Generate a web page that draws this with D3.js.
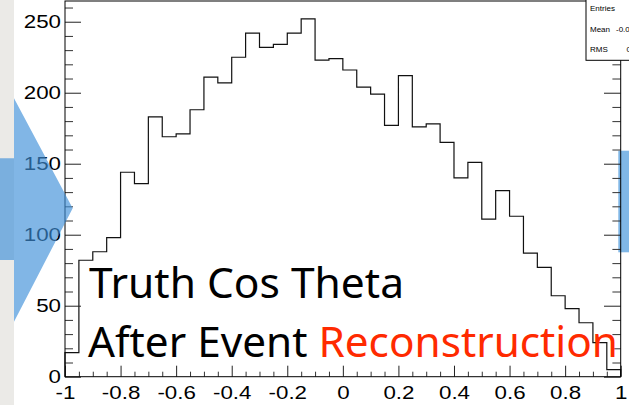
<!DOCTYPE html>
<html>
<head>
<meta charset="utf-8">
<script src="https://cdn.jsdelivr.net/npm/d3@7"></script>
<style>
  html, body { margin: 0; padding: 0; background: #ffffff; }
  svg { display: block; }
</style>
</head>
<body>
<script>
// ---- data ----
const binEdges = [-1, -0.95, -0.9, -0.85, -0.8, -0.75, -0.7, -0.65, -0.6, -0.55,
  -0.5, -0.45, -0.4, -0.35, -0.3, -0.25, -0.2, -0.15, -0.1, -0.05,
  0, 0.05, 0.1, 0.15, 0.2, 0.25, 0.3, 0.35, 0.4, 0.45,
  0.5, 0.55, 0.6, 0.65, 0.7, 0.75, 0.8, 0.85, 0.9, 0.95, 1];
const counts = [17, 82, 88, 98, 144, 136, 183, 169, 171, 188,
  211, 207, 225, 242, 232, 234, 242, 252, 223, 224,
  216, 204, 199, 177, 212, 176, 178, 165, 140, 151,
  111, 131, 113, 87, 77, 57, 48, 38, 24, 5];
const xTicks = [-1, -0.8, -0.6, -0.4, -0.2, 0, 0.2, 0.4, 0.6, 0.8, 1];
const xTickLabels = ["-1", "-0.8", "-0.6", "-0.4", "-0.2", "0", "0.2", "0.4", "0.6", "0.8", "1"];
const yTicks = [0, 50, 100, 150, 200, 250];
const yTickLabels = ["0", "50", "100", "150", "200", "250"];
const titleLine1 = "Truth Cos Theta";
const titleLine2a = "After Event ";
const titleLine2b = "Reconstruction";
const statLabels = ["Entries", "Mean", "RMS"];

// ---- layout ----
const W = 629, H = 405;
const L = 65, R = 620.7, T = 1, B = 376.7;
const stretch = 1.2;

const svg = d3.select("body").append("svg").attr("width", W).attr("height", H);

const x = d3.scaleLinear().domain([binEdges[0], binEdges[binEdges.length - 1]]).range([L, R]);
const y = d3.scaleLinear().domain([0, d3.max(counts) * 1.05]).range([B, T]);

// background strip on left
svg.append("rect").attr("x", 0).attr("y", 0).attr("width", 14).attr("height", H).attr("fill", "#ebeae7");

// plot area
svg.append("rect").attr("x", L).attr("y", T).attr("width", R - L).attr("height", B - T).attr("fill", "#fff");

// right blue block
svg.append("rect").attr("x", 618.3).attr("y", 150.7).attr("width", W - 618.3).attr("height", 101.6).attr("fill", "#80b7e6");

// histogram outline
let p = d3.path();
p.moveTo(x(binEdges[0]), y(0));
counts.forEach((c, i) => {
  p.lineTo(x(binEdges[i]), y(c));
  p.lineTo(x(binEdges[i + 1]), y(c));
});
p.lineTo(x(binEdges[binEdges.length - 1]), y(0));
svg.append("path").attr("d", p.toString()).attr("fill", "none").attr("stroke", "#111").attr("stroke-width", 1.2);

function stretchText(sel) {
  sel.each(function () {
    const len = this.getComputedTextLength();
    d3.select(this).attr("textLength", len * stretch).attr("lengthAdjust", "spacingAndGlyphs");
  });
}

const tickFont = "'Liberation Sans', Arial, Helvetica, sans-serif";

// y axis minor
const yMinor = d3.range(0, y.domain()[1], 10).filter(v => v % 50 !== 0);
svg.append("g").attr("transform", `translate(${L},0)`)
  .call(d3.axisLeft(y).tickValues(yMinor).tickSize(-8).tickSizeOuter(0).tickFormat(""))
  .call(g => g.select(".domain").remove())
  .selectAll("line").attr("stroke", "#333");
// y axis major
const gy = svg.append("g").attr("transform", `translate(${L},0)`)
  .call(d3.axisLeft(y).tickValues(yTicks).tickSize(-16).tickSizeOuter(0).tickPadding(4)
    .tickFormat((d, i) => yTickLabels[i]));
gy.select(".domain").remove();
gy.selectAll("line").attr("stroke", "#222");
gy.selectAll("text").attr("font-family", tickFont).attr("font-size", 18.6).attr("fill", "#000").call(stretchText);

// right axis ticks
svg.append("g").attr("transform", `translate(${R},0)`)
  .call(d3.axisRight(y).tickValues(yMinor).tickSize(-8.3).tickSizeOuter(0).tickFormat(""))
  .call(g => g.select(".domain").remove())
  .selectAll("line").attr("stroke", "#333");
svg.append("g").attr("transform", `translate(${R},0)`)
  .call(d3.axisRight(y).tickValues(yTicks).tickSize(-16.7).tickSizeOuter(0).tickFormat(""))
  .call(g => g.select(".domain").remove())
  .selectAll("line").attr("stroke", "#222");

// x axis minor
svg.append("g").attr("transform", `translate(0,${B})`)
  .call(d3.axisBottom(x).tickValues(binEdges.filter(v => !xTicks.some(t => Math.abs(t - v) < 1e-9))).tickSize(-5).tickSizeOuter(0).tickFormat(""))
  .call(g => g.select(".domain").remove())
  .selectAll("line").attr("stroke", "#333");
// x axis major
const gx = svg.append("g").attr("transform", `translate(0,${B})`)
  .call(d3.axisBottom(x).tickValues(xTicks).tickSize(-11).tickSizeOuter(0).tickPadding(9.5)
    .tickFormat((d, i) => xTickLabels[i]));
gx.select(".domain").remove();
gx.selectAll("line").attr("stroke", "#222");
gx.selectAll("text").attr("font-family", tickFont).attr("font-size", 18.6).attr("fill", "#000").call(stretchText);

// frame
svg.append("rect").attr("x", L).attr("y", T).attr("width", R - L).attr("height", B - T)
  .attr("fill", "none").attr("stroke", "#000").attr("stroke-width", 1);

// title text
const bigFont = "'Noto Sans', 'Open Sans', sans-serif";
svg.append("text").attr("x", 89).attr("y", 298).attr("font-family", bigFont).attr("font-size", 42)
  .attr("fill", "#000").attr("textLength", 315).attr("lengthAdjust", "spacingAndGlyphs").text(titleLine1);
const t2 = svg.append("text").attr("x", 88).attr("y", 357).attr("font-family", bigFont).attr("font-size", 42)
  .attr("fill", "#000").attr("textLength", 530).attr("lengthAdjust", "spacingAndGlyphs");
t2.append("tspan").text(titleLine2a);
t2.append("tspan").attr("fill", "#ff2a00").text(titleLine2b);

// stats box (cut by the right edge, as in the reference)
const total = d3.sum(counts);
const centers = counts.map((c, i) => (binEdges[i] + binEdges[i + 1]) / 2);
const mean = d3.sum(counts.map((c, i) => c * centers[i])) / total;
const rms = Math.sqrt(d3.sum(counts.map((c, i) => c * (centers[i] - mean) ** 2)) / total);
svg.append("rect").attr("x", 586).attr("y", -1).attr("width", 60).attr("height", 61.3)
  .attr("fill", "#fff").attr("stroke", "#000").attr("stroke-width", 1);
const statVals = [null, mean.toFixed(4), rms.toFixed(4)];
const statValX = [null, 616, 626.5];
const statY = [10.7, 31.7, 51.7];
statLabels.forEach((s, i) => {
  svg.append("text").attr("x", 590).attr("y", statY[i]).attr("font-family", tickFont).attr("font-size", 8)
    .attr("fill", "#000").text(s);
  if (statVals[i] !== null) {
    svg.append("text").attr("x", statValX[i]).attr("y", statY[i]).attr("font-family", tickFont).attr("font-size", 8)
      .attr("fill", "#000").text(statVals[i]);
  }
});

// left blue arrow (semi-transparent, on top)
const arrowPts = [[0, 158.3], [14, 158.3], [14, 98.3], [72.7, 208.3], [14, 321.7], [14, 260], [0, 260]];
svg.append("path").attr("d", d3.line()(arrowPts) + "Z").attr("fill", "#3d8fd9").attr("fill-opacity", 0.65);
</script>
</body>
</html>
